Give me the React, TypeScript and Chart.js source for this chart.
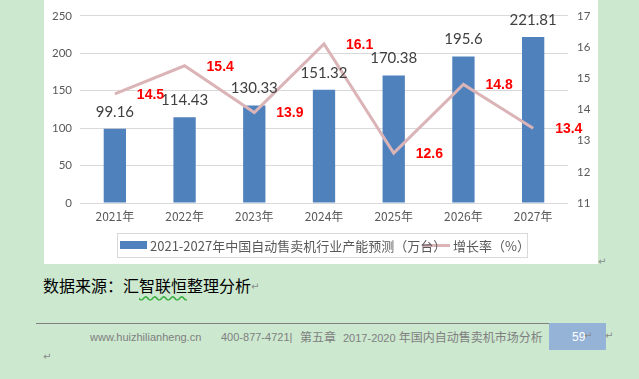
import React, { useEffect, useRef } from 'react';
import { Chart, registerables } from 'chart.js';

Chart.register(...registerables);

const categories = ['2021年', '2022年', '2023年', '2024年', '2025年', '2026年', '2027年'];
const capacity = [99.16, 114.43, 130.33, 151.32, 170.38, 195.6, 221.81];
const growth = [14.5, 15.4, 13.9, 16.1, 12.6, 14.8, 13.4];
const capacityLabels = ['99.16', '114.43', '130.33', '151.32', '170.38', '195.6', '221.81'];
const growthLabels = ['14.5', '15.4', '13.9', '16.1', '12.6', '14.8', '13.4'];
const leftAxis = [0, 250, 50];
const rightAxis = [11, 17, 1];
const barName = '2021-2027年中国自动售卖机行业产能预测（万台）';
const lineName = '增长率（%）';
const sourceText = ['数据来源：汇', '智联恒', '整理分析'];

const BAR_COLOR = '#4f81bd';
const LINE_COLOR = '#dbb4b8';
const GRID = '#d9d9d9';
const TICK = '#595959';
const CJK = '"Noto Sans CJK SC", "Noto Sans", sans-serif';
const NUM = 'Lato, "Liberation Sans", sans-serif';
const FOOT = '"Liberation Sans", "Noto Sans CJK SC", sans-serif';

export default function App() {
  const ref = useRef<HTMLCanvasElement>(null);

  useEffect(() => {
    document.body.style.margin = '0';
    const labelPlugin = {
      id: 'valueLabels',
      afterDatasetsDraw(chart: any) {
        const ctx = chart.ctx;
        ctx.save();
        const barMeta = chart.getDatasetMeta(1);
        ctx.font = '15px ' + NUM;
        ctx.fillStyle = '#404040';
        ctx.textAlign = 'center';
        ctx.textBaseline = 'middle';
        barMeta.data.forEach((el: any, i: number) => {
          ctx.fillText(capacityLabels[i], el.x, el.y - 17);
        });
        const lineMeta = chart.getDatasetMeta(0);
        ctx.font = 'bold 14px "Liberation Sans", Arial, sans-serif';
        ctx.fillStyle = '#ff0000';
        ctx.textAlign = 'left';
        lineMeta.data.forEach((el: any, i: number) => {
          ctx.fillText(growthLabels[i], el.x + 22, el.y + 1);
        });
        ctx.restore();
      },
    };
    const legendPlugin = {
      id: 'boxLegend',
      afterDraw(chart: any) {
        const ctx = chart.ctx;
        ctx.save();
        ctx.strokeStyle = '#d9d9d9';
        ctx.lineWidth = 1;
        ctx.strokeRect(73.5, 233.5, 410, 24);
        ctx.fillStyle = BAR_COLOR;
        ctx.fillRect(76, 241, 27, 8);
        ctx.strokeStyle = LINE_COLOR;
        ctx.lineWidth = 3;
        ctx.beginPath();
        ctx.moveTo(378, 245.5);
        ctx.lineTo(406, 245.5);
        ctx.stroke();
        ctx.font = '13px ' + CJK;
        ctx.fillStyle = TICK;
        ctx.textAlign = 'left';
        ctx.textBaseline = 'middle';
        ctx.fillText(barName, 106, 246);
        ctx.fillText(lineName, 409, 246);
        ctx.restore();
      },
    };
    const chart = new Chart(ref.current as HTMLCanvasElement, {
      type: 'bar',
      data: {
        labels: categories,
        datasets: [
          {
            type: 'line',
            label: lineName,
            data: growth,
            yAxisID: 'y1',
            borderColor: LINE_COLOR,
            backgroundColor: LINE_COLOR,
            borderWidth: 3,
            pointRadius: 0,
            tension: 0,
            order: 0,
          } as any,
          {
            type: 'bar',
            label: barName,
            data: capacity,
            yAxisID: 'y',
            backgroundColor: BAR_COLOR,
            barPercentage: 0.32,
            categoryPercentage: 1,
            order: 1,
          },
        ],
      },
      options: {
        responsive: false,
        devicePixelRatio: 1,
        animation: false,
        layout: { padding: { left: 0, right: 0, top: 15, bottom: 36 } },
        plugins: { legend: { display: false }, tooltip: { enabled: false } },
        scales: {
          x: {
            grid: { display: false, drawTicks: false },
            border: { display: false },
            ticks: { color: TICK, font: { size: 12, family: CJK }, padding: 6 },
            afterFit(s: any) { s.height = 25; },
          },
          y: {
            position: 'left',
            min: leftAxis[0],
            max: leftAxis[1],
            ticks: { stepSize: leftAxis[2], color: TICK, font: { size: 11.5, family: NUM }, padding: 8 },
            grid: { color: GRID, drawTicks: false, lineWidth: 1 },
            border: { display: false },
            afterFit(s: any) { s.width = 36; },
          },
          y1: {
            position: 'right',
            min: rightAxis[0],
            max: rightAxis[1],
            ticks: { stepSize: rightAxis[2], color: TICK, font: { size: 11.5, family: NUM }, padding: 9 },
            grid: { display: false, drawTicks: false },
            border: { display: false },
            afterFit(s: any) { s.width = 30; },
          },
        },
      },
      plugins: [labelPlugin, legendPlugin],
    });
    return () => chart.destroy();
  }, []);

  const ret = (left: number, top: number) => (
    <span style={{ position: 'absolute', left, top, fontSize: 10, lineHeight: '10px', color: '#8a8a8a', fontFamily: '"DejaVu Sans", sans-serif' }}>↵</span>
  );

  const footer = { position: 'absolute' as const, top: 329, fontSize: 11, lineHeight: '16px', color: '#7f7f7f', fontFamily: FOOT, whiteSpace: 'nowrap' as const };
  const cjk12 = { fontSize: 12, fontFamily: CJK };

  return (
    <div style={{ position: 'relative', width: 639, height: 379, background: '#cce8cf', overflow: 'hidden' }}>
      <div style={{ position: 'absolute', left: 44, top: 0, width: 554, height: 264, background: '#ffffff' }}>
        <canvas ref={ref} width={554} height={264} style={{ display: 'block', width: 554, height: 264 }} />
      </div>
      {ret(598, 257)}
      <div style={{ position: 'absolute', left: 43, top: 276, fontSize: 16, lineHeight: '18px', color: '#000', fontFamily: CJK, whiteSpace: 'nowrap' }}>
        {sourceText[0]}
        <span style={{ textDecoration: 'underline wavy #3cb043', textUnderlineOffset: '3px' }}>{sourceText[1]}</span>
        {sourceText[2]}
      </div>
      {ret(251, 282)}
      <div style={{ position: 'absolute', left: 36, top: 323, width: 513, height: 1, background: '#808080' }} />
      <div style={{ position: 'absolute', left: 549, top: 323, width: 57, height: 27, background: '#95b3d7' }} />
      <span style={{ ...footer, left: 90 }}>www.huizhilianheng.cn</span>
      <span style={{ ...footer, left: 221 }}>400-877-4721|</span>
      <span style={{ ...footer, ...cjk12, left: 300 }}>第五章</span>
      <span style={{ ...footer, left: 343 }}>2017-2020 <span style={cjk12}>年国内自动售卖机市场分析</span></span>
      <span style={{ ...footer, fontSize: 12, left: 572, color: '#ffffff' }}>59</span>
      {ret(584, 331)}
      {ret(605, 331)}
      {ret(43, 352)}
    </div>
  );
}
